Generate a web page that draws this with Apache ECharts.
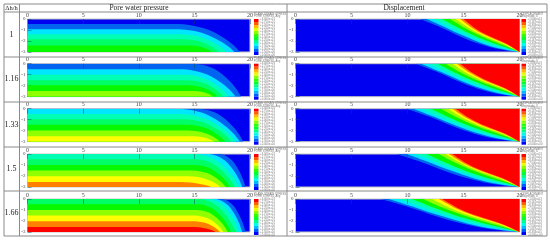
<!DOCTYPE html>
<html><head><meta charset="utf-8">
<style>html,body{margin:0;padding:0;background:#fff}#c{width:550px;height:241px}</style>
<script src="https://cdn.jsdelivr.net/npm/echarts@6/dist/echarts.min.js"></script>
</head><body><div id="c"></div>
<script>
const rowLabels = ['1','1.16','1.33','1.5','1.66'];
const columnTitles = ['Pore water pressure','Displacement'];
const cornerTitle = 'Δh/h';
const xTicks = [0,5,10,15,20];
const palette = {B0:'#0000f0',B1:'#0064f0',C:'#00e6ff',A:'#00ffb4',S:'#00ff64',G:'#08f800',L:'#90ff00',Y:'#ffff00',O:'#ff8000',R:'#ff0000'};
const legendColors = ['#ff0000','#ff5d00','#ffb900','#e8ff00','#8bff00','#2eff00','#00ff2e','#00ff8b','#00ffe8','#00b9ff','#005dff','#0000ff'];
const poreLegendTicks = ['+3.000e+01','+2.750e+01','+2.500e+01','+2.250e+01','+2.000e+01','+1.750e+01','+1.500e+01','+1.250e+01','+1.000e+01','+7.500e+00','+5.000e+00','+2.500e+00','+0.000e+00'];
const dispLegendTicks = ['+1.000e-03','+9.167e-04','+8.333e-04','+7.500e-04','+6.667e-04','+5.833e-04','+5.000e-04','+4.167e-04','+3.333e-04','+2.500e-04','+1.667e-04','+8.333e-05','+0.000e+00'];

const pore1Bands = ['B1','C','A','S','G'];
const pore1 = [
 [[0,-.45],[13.3,-.45],[14.75,-.58],[16.2,-.96],[17.65,-1.73],[18.52,-2.39],[19.1,-3]],
 [[0,-.93],[13.2,-.93],[14.55,-1.03],[15.9,-1.34],[17.25,-1.97],[18.06,-2.5],[18.6,-3]],
 [[0,-1.38],[13.6,-1.38],[14.68,-1.46],[15.75,-1.7],[16.83,-2.19],[17.47,-2.61],[17.9,-3]],
 [[0,-1.85],[14,-1.85],[14.8,-1.91],[15.6,-2.08],[16.4,-2.43],[16.88,-2.72],[17.2,-3]],
 [[0,-2.4],[14.5,-2.4],[15.03,-2.43],[15.55,-2.52],[16.08,-2.7],[16.39,-2.86],[16.6,-3]]
];
const pore2Bands = ['B1','C','A','S','G','L'];
const pore2 = [
 [[0,0],[14.8,0],[15.9,-.15],[17,-.6],[18.1,-1.5],[18.76,-2.28],[19.2,-3]],
 [[0,-.5],[13.7,-.5],[14.95,-.63],[16.2,-1],[17.45,-1.75],[18.2,-2.4],[18.7,-3]],
 [[0,-1],[14,-1],[15.03,-1.1],[16.05,-1.4],[17.08,-2],[17.69,-2.52],[18.1,-3]],
 [[0,-1.5],[14.3,-1.5],[15.13,-1.58],[15.95,-1.8],[16.78,-2.25],[17.27,-2.64],[17.6,-3]],
 [[0,-1.97],[14.5,-1.97],[15.15,-2.02],[15.8,-2.18],[16.45,-2.49],[16.84,-2.75],[17.1,-3]],
 [[0,-2.48],[14.8,-2.48],[15.28,-2.51],[15.75,-2.58],[16.23,-2.74],[16.51,-2.88],[16.7,-3]]
];
const pore3Bands = ['B1','C','A','S','G','L','Y'];
const pore3 = [
 [[0,0],[15.2,0],[16.25,-.15],[17.3,-.6],[18.35,-1.5],[18.98,-2.28],[19.4,-3]],
 [[0,0],[13.4,0],[14.83,-.15],[16.25,-.6],[17.68,-1.5],[18.53,-2.28],[19.1,-3]],
 [[0,-.48],[13.7,-.48],[14.95,-.61],[16.2,-.98],[17.45,-1.74],[18.2,-2.4],[18.7,-3]],
 [[0,-.97],[14,-.97],[15.08,-1.07],[16.15,-1.38],[17.23,-1.99],[17.87,-2.51],[18.3,-3]],
 [[0,-1.45],[14.2,-1.45],[15.1,-1.53],[16,-1.76],[16.9,-2.23],[17.44,-2.63],[17.8,-3]],
 [[0,-1.98],[14.4,-1.98],[15.13,-2.03],[15.85,-2.18],[16.58,-2.49],[17.01,-2.76],[17.3,-3]],
 [[0,-2.5],[14.7,-2.5],[15.23,-2.53],[15.75,-2.6],[16.28,-2.75],[16.59,-2.88],[16.8,-3]]
];
const pore4Bands = ['B1','C','A','S','G','L','Y','O'];
const pore4 = [
 [[0,0],[17.2,0],[17.8,-.15],[18.4,-.6],[19,-1.5],[19.36,-2.28],[19.6,-3]],
 [[0,0],[16.2,0],[16.98,-.15],[17.75,-.6],[18.53,-1.5],[18.99,-2.28],[19.3,-3]],
 [[0,0],[15,0],[16,-.15],[17,-.6],[18,-1.5],[18.6,-2.28],[19,-3]],
 [[0,-.47],[15,-.47],[15.9,-.6],[16.8,-.98],[17.7,-1.74],[18.24,-2.39],[18.6,-3]],
 [[0,-1],[15,-1],[15.8,-1.1],[16.6,-1.4],[17.4,-2],[17.88,-2.52],[18.2,-3]],
 [[0,-1.5],[14.8,-1.5],[15.55,-1.58],[16.3,-1.8],[17.05,-2.25],[17.5,-2.64],[17.8,-3]],
 [[0,-2.02],[14.5,-2.02],[15.2,-2.07],[15.9,-2.22],[16.6,-2.51],[17.02,-2.76],[17.3,-3]],
 [[0,-2.55],[13.5,-2.55],[14.25,-2.57],[15,-2.64],[15.75,-2.78],[16.2,-2.89],[16.5,-3]]
];
const pore5Bands = ['B1','C','A','S','G','L','Y','O','R'];
const pore5 = [
 [[0,0],[17.4,0],[17.95,-.15],[18.5,-.6],[19.05,-1.5],[19.38,-2.28],[19.6,-3]],
 [[0,0],[16.8,0],[17.43,-.15],[18.05,-.6],[18.68,-1.5],[19.05,-2.28],[19.3,-3]],
 [[0,0],[16.2,0],[16.9,-.15],[17.6,-.6],[18.3,-1.5],[18.72,-2.28],[19,-3]],
 [[0,0],[15.3,0],[16.15,-.15],[17,-.6],[17.85,-1.5],[18.36,-2.28],[18.7,-3]],
 [[0,-.48],[15.3,-.48],[16.05,-.61],[16.8,-.98],[17.55,-1.74],[18,-2.4],[18.3,-3]],
 [[0,-1],[15.2,-1],[15.9,-1.1],[16.6,-1.4],[17.3,-2],[17.72,-2.52],[18,-3]],
 [[0,-1.5],[15,-1.5],[15.65,-1.58],[16.3,-1.8],[16.95,-2.25],[17.34,-2.64],[17.6,-3]],
 [[0,-2.03],[15,-2.03],[15.58,-2.08],[16.15,-2.22],[16.73,-2.52],[17.07,-2.77],[17.3,-3]],
 [[0,-2.55],[14.8,-2.55],[15.33,-2.57],[15.85,-2.64],[16.38,-2.78],[16.69,-2.89],[16.9,-3]]
];

const dispBands = ['B1','C','A','G','L','Y','O','R'];
const dispDepths = [
 [0,-.72,-1.56,-2.28,-2.76,-3],
 [0,-.74,-1.53,-2.22,-2.7,-3],
 [0,-.75,-1.5,-2.13,-2.61,-3],
 [0,-.77,-1.47,-2.04,-2.52,-3],
 [0,-.78,-1.44,-1.97,-2.45,-3],
 [0,-.8,-1.43,-1.92,-2.4,-3],
 [0,-.81,-1.41,-1.88,-2.36,-3],
 [0,-.81,-1.41,-1.86,-2.34,-3]
];
const disp1X = [[11.1,12.88,14.66,16.44,18.22,20],[11.7,13.36,15.02,16.68,18.34,20],[12.3,13.84,15.38,16.92,18.46,20],[13.1,14.48,15.86,17.24,18.62,20],[13.8,15.04,16.28,17.52,18.76,20],[14.3,15.44,16.58,17.72,18.86,20],[14.7,15.76,16.82,17.88,18.94,20],[15,16,17,18,19,20]];
const disp2X = [[10.7,12.56,14.42,16.28,18.14,20],[11.2,12.96,14.72,16.48,18.24,20],[11.9,13.52,15.14,16.76,18.38,20],[12.7,14.16,15.62,17.08,18.54,20],[13.4,14.72,16.04,17.36,18.68,20],[14,15.2,16.4,17.6,18.8,20],[14.4,15.52,16.64,17.76,18.88,20],[14.7,15.76,16.82,17.88,18.94,20]];
const disp3X = [[9.9,11.92,13.94,15.96,17.98,20],[10.5,12.4,14.3,16.2,18.1,20],[11.2,12.96,14.72,16.48,18.24,20],[12.1,13.68,15.26,16.84,18.42,20],[13,14.4,15.8,17.2,18.6,20],[13.6,14.88,16.16,17.44,18.72,20],[14,15.2,16.4,17.6,18.8,20],[14.3,15.44,16.58,17.72,18.86,20]];
const disp4X = [[9,11.2,13.4,15.6,17.8,20],[9.9,11.92,13.94,15.96,17.98,20],[10.7,12.56,14.42,16.28,18.14,20],[11.7,13.36,15.02,16.68,18.34,20],[12.8,14.24,15.68,17.12,18.56,20],[13.4,14.72,16.04,17.36,18.68,20],[13.7,14.96,16.22,17.48,18.74,20],[14,15.2,16.4,17.6,18.8,20]];
const disp5X = [[7.6,10.08,12.56,15.04,17.52,20],[8.3,10.64,12.98,15.32,17.66,20],[9.2,11.36,13.52,15.68,17.84,20],[10.4,12.32,14.24,16.16,18.08,20],[11.4,13.12,14.84,16.56,18.28,20],[12.2,13.76,15.32,16.88,18.44,20],[12.8,14.24,15.68,17.12,18.56,20],[13.1,14.48,15.86,17.24,18.62,20]];

const poreSets = [[pore1,pore1Bands],[pore2,pore2Bands],[pore3,pore3Bands],[pore4,pore4Bands],[pore5,pore5Bands]];
const dispSets = [disp1X,disp2X,disp3X,disp4X,disp5X];

const gridTops = [19,63.7,108.7,154,199], gridH = 33;
const SERIF = '"Liberation Serif","DejaVu Serif",serif';
const grids=[],xAxes=[],yAxes=[],series=[],graphic=[];
function addAxes(left,width,top){
  const i=grids.length;
  grids.push({left,top,width,height:gridH,show:true,backgroundColor:palette.B0,borderColor:'#c4c4c4',borderWidth:1,containLabel:false});
  xAxes.push({type:'value',gridIndex:i,position:'top',min:0,max:20,interval:5,z:5,splitLine:{show:false},axisLine:{show:false},
    axisTick:{inside:true,length:5,lineStyle:{color:'rgba(0,70,90,.45)',width:1}},
    axisLabel:{fontSize:6,fontFamily:SERIF,color:'#444',margin:1,hideOverlap:false}});
  yAxes.push({type:'value',gridIndex:i,min:-3,max:0,interval:1,z:5,splitLine:{show:false},axisLine:{show:false},
    axisTick:{inside:true,length:4,lineStyle:{color:'rgba(0,70,90,.45)',width:1}},
    axisLabel:{fontSize:5,fontFamily:SERIF,color:'#444',margin:2}});
  return i;
}
function addArea(i,data,color,origin,z){
  series.push({type:'line',xAxisIndex:i,yAxisIndex:i,data,showSymbol:false,silent:true,smooth:.35,
    lineStyle:{width:0},itemStyle:{color},areaStyle:{color,opacity:1,origin},z:z,animation:false,clip:true});
}
function text(x,y,s,fs,align,opt){
  graphic.push({type:'text',silent:true,x,y,z:20,style:Object.assign({text:s,fontSize:fs,fontFamily:SERIF,fill:'#222',align:align||'center',verticalAlign:'middle'},opt||{})});
}
function line(x1,y1,x2,y2){
  graphic.push({type:'line',silent:true,z:19,shape:{x1,y1,x2,y2},style:{stroke:'#8a8a8a',lineWidth:1}});
}
function legend(xs,top,ticks,headA,headB){
  const h=36/legendColors.length;
  legendColors.forEach((c,k)=>graphic.push({type:'rect',silent:true,z:18,shape:{x:xs,y:top+k*h,width:4.5,height:h},style:{fill:c}}));
  const small={fill:'#777',fontFamily:'"Liberation Sans",sans-serif'};
  ticks.forEach((t,k)=>text(xs+6,top+k*h,t,2.8,'left',small));
  text(xs,top-5,headA,2.8,'left',small);
  text(xs,top-2.4,headB,2.8,'left',small);
}
gridTops.forEach((top,r)=>{
  const a=addAxes(27.5,222.5,top);
  poreSets[r][0].forEach((curve,k)=>addArea(a,curve,palette[poreSets[r][1][k]],'start',2+k));
  const b=addAxes(295.5,224,top);
  dispSets[r].forEach((xs,k)=>addArea(b,xs.map((x,j)=>[x,dispDepths[k][j]]),palette[dispBands[k]],'end',2+k));
  legend(254,top,poreLegendTicks,'PLANE STRAIN STRESS','PORE STRESS, Avg');
  legend(521.5,top,dispLegendTicks,'DISPLACEMENT','Magnitude, U');
  text(11.5,[35,79,125,169,213][r],rowLabels[r],8);
});
[[4,4,547,4],[4,12,547,12],[4,57,547,57],[4,102,547,102],[4,147,547,147],[4,191,547,191],[4,236,547,236],[4,4,4,236],[19.5,4,19.5,236],[287,4,287,236],[547,4,547,236]].forEach(l=>line(...l));
text(11.5,8.2,cornerTitle,6.5);
text(139,8,columnTitles[0],7.5);
text(404,8,columnTitles[1],7.5);

const chart=echarts.init(document.getElementById('c'),null,{renderer:'canvas'});
chart.setOption({animation:false,backgroundColor:'#fff',grid:grids,xAxis:xAxes,yAxis:yAxes,series,graphic});
</script></body></html>
